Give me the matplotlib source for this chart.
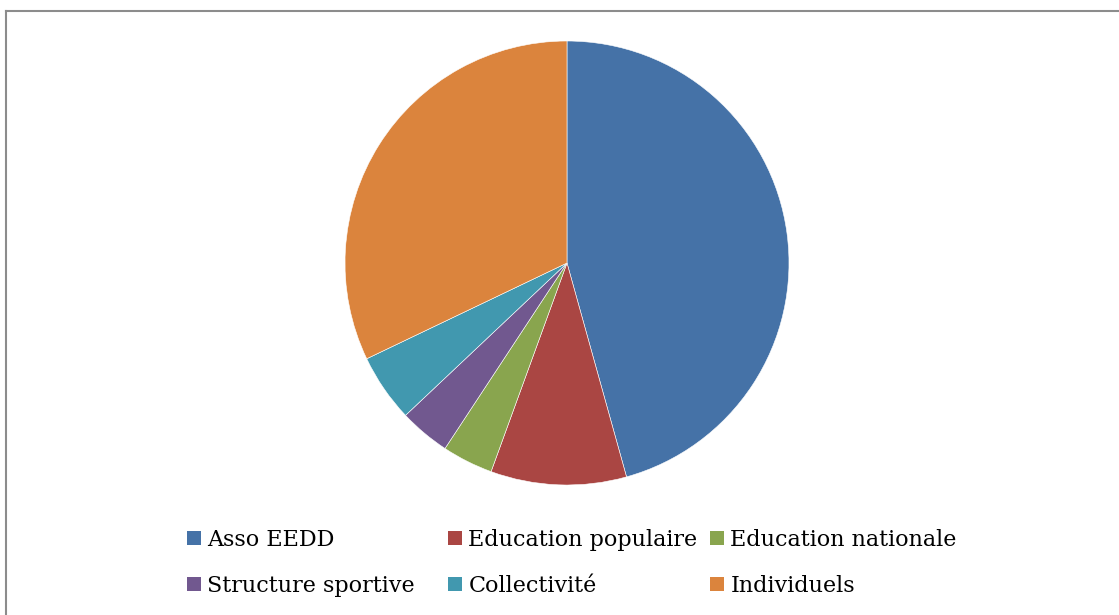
import matplotlib.pyplot as plt
from matplotlib.lines import Line2D
from matplotlib.patches import Patch

labels = ["Asso EEDD", "Education populaire", "Education nationale",
          "Structure sportive", "Collectivité", "Individuels"]
counts = [37, 8, 3, 3, 4, 26]
colors = ["#4572A7", "#AA4643", "#89A54E", "#71588F", "#4198AF", "#DB843D"]

W, H = 1119, 615
fig = plt.figure(figsize=(W / 100, H / 100), dpi=100)

# pie area: centre (567, 263), radius 222 px
cx, cy, r = 567, 263, 222
ax = fig.add_axes([(cx - r) / W, (H - cy - r) / H, 2 * r / W, 2 * r / H])
ax.pie(counts, colors=colors, startangle=90, counterclock=False,
       wedgeprops=dict(edgecolor="white", linewidth=0.4))
ax.set_xlim(-1, 1)
ax.set_ylim(-1, 1)
ax.set_aspect("equal")
ax.axis("off")

# legend: 2 rows x 3 columns, one legend per column so columns sit like Excel's
handles = [Patch(facecolor=c, edgecolor="none") for c in colors]
col_x = [187, 448, 710]
for j, x in enumerate(col_x):
    idx = [j, j + 3]
    fig.legend([handles[i] for i in idx], [labels[i] for i in idx],
               loc="upper left", bbox_to_anchor=(x / W, 1 - 529 / H),
               frameon=False, prop={"family": "DejaVu Serif", "size": 16},
               handlelength=0.62, handleheight=0.62, handletextpad=0.3,
               labelspacing=1.08, borderpad=0, borderaxespad=0)

# chart frame (only top and left edges are visible in the crop)
fig.add_artist(Line2D([6 / W, 1.0], [1 - 11 / H, 1 - 11 / H], color="#8c8c8c", lw=1.5))
fig.add_artist(Line2D([6 / W, 6 / W], [0.0, 1 - 11 / H], color="#8c8c8c", lw=1.5))

fig.savefig("out.png", dpi=100, facecolor="white")
